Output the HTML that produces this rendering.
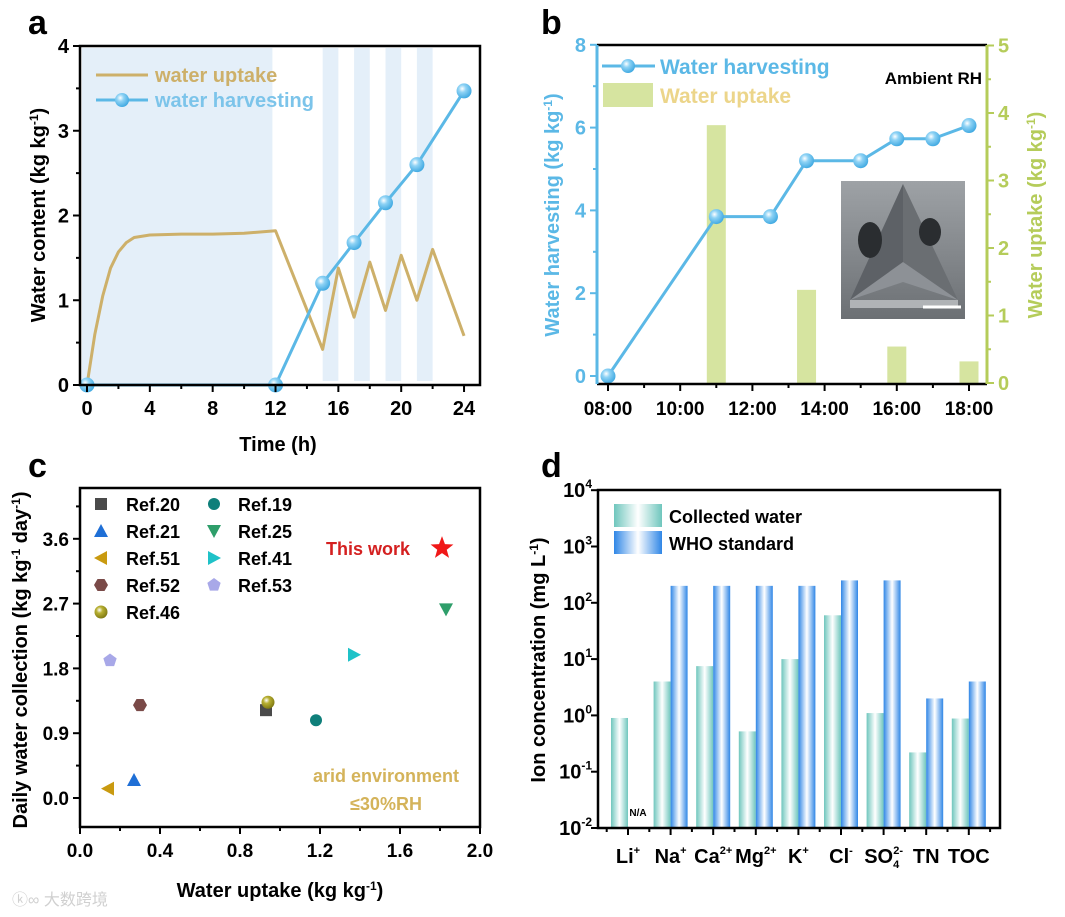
<!DOCTYPE html>
<html><head><meta charset="utf-8"><style>
html,body{margin:0;padding:0;background:#fff;}
svg{display:block;font-family:"Liberation Sans","Noto Sans CJK SC",sans-serif;font-weight:bold;}
</style></head><body>
<svg id="fig" width="1065" height="917" viewBox="0 0 1065 917" xmlns="http://www.w3.org/2000/svg">
<defs>
<radialGradient id="ball" cx="0.38" cy="0.35" r="0.7"><stop offset="0" stop-color="#ffffff"/><stop offset="0.35" stop-color="#8fd3f5"/><stop offset="1" stop-color="#3aa6e0"/></radialGradient>
<radialGradient id="olive" cx="0.38" cy="0.35" r="0.7"><stop offset="0" stop-color="#ffffff"/><stop offset="0.35" stop-color="#b8b032"/><stop offset="1" stop-color="#7b7510"/></radialGradient>
<linearGradient id="teal" x1="0" x2="1" y1="0" y2="0"><stop offset="0" stop-color="#6fc6bd"/><stop offset="0.5" stop-color="#ffffff"/><stop offset="1" stop-color="#6fc6bd"/></linearGradient>
<linearGradient id="blue" x1="0" x2="1" y1="0" y2="0"><stop offset="0" stop-color="#2f86e6"/><stop offset="0.5" stop-color="#ffffff"/><stop offset="1" stop-color="#2f86e6"/></linearGradient>
<linearGradient id="photo" x1="0" x2="0" y1="0" y2="1"><stop offset="0" stop-color="#9ea2a6"/><stop offset="1" stop-color="#6c7074"/></linearGradient>
</defs>

<text x="28" y="34" font-size="34">a</text>
<text x="541" y="34" font-size="34">b</text>
<text x="28" y="477" font-size="34">c</text>
<text x="541" y="477" font-size="34">d</text>

<g id="pa">
<g id="pa-shade"></g>
<g id="pa-marks"></g>
<rect x="80" y="46" width="400" height="339" fill="none" stroke="#000" stroke-width="2.5"/>
<g id="pa-ticks"></g>
<line x1="96" y1="75" x2="148" y2="75" stroke="#cdb06a" stroke-width="3"/>
<text x="155" y="82" font-size="20" fill="#cdb06a">water uptake</text>
<line x1="96" y1="100" x2="148" y2="100" stroke="#5bb8e6" stroke-width="3"/>
<circle cx="122" cy="100" r="7" fill="url(#ball)"/>
<text x="155" y="107" font-size="20" fill="#7cc4ea">water harvesting</text>
<text transform="translate(45,215) rotate(-90)" text-anchor="middle" font-size="20">Water content (kg kg<tspan dy="-7" font-size="12">-1</tspan><tspan dy="7">)</tspan></text>
<text x="278" y="451" text-anchor="middle" font-size="20">Time (h)</text>
</g>

<g id="pb">
<g id="pb-bars"></g>
<g id="pb-photo">
<rect x="841" y="181" width="124" height="138" fill="url(#photo)"/>
<polygon points="903,184 850,300 903,282 958,300" fill="#8d9196"/>
<polygon points="903,184 850,300 903,262" fill="#5d6166"/>
<polygon points="903,184 958,300 903,262" fill="#6a6e72"/>
<ellipse cx="870" cy="240" rx="12" ry="18" fill="#2a2d30"/>
<ellipse cx="930" cy="232" rx="11" ry="14" fill="#2a2d30"/>
<rect x="850" y="300" width="108" height="8" fill="#b0b3b6"/>
<line x1="923" y1="307" x2="961" y2="307" stroke="#fff" stroke-width="3"/>
</g>
<g id="pb-marks"></g>
<line x1="597" y1="45" x2="987" y2="45" stroke="#000" stroke-width="2.5"/>
<line x1="597" y1="384" x2="987" y2="384" stroke="#000" stroke-width="2.5"/>
<line x1="597" y1="45" x2="597" y2="384" stroke="#5bb8e6" stroke-width="3"/>
<line x1="987" y1="45" x2="987" y2="384" stroke="#b5cc5a" stroke-width="3"/>
<g id="pb-ticks"></g>
<line x1="602" y1="66" x2="655" y2="66" stroke="#5bb8e6" stroke-width="3"/>
<circle cx="628" cy="66" r="7" fill="url(#ball)"/>
<text x="660" y="74" font-size="21" fill="#5bb8e6">Water harvesting</text>
<rect x="603" y="83" width="50" height="24" fill="#d6e4a0"/>
<text x="660" y="103" font-size="21" fill="#ecd58a">Water uptake</text>
<text x="982" y="84" text-anchor="end" font-size="17">Ambient RH</text>
<text transform="translate(559,215) rotate(-90)" text-anchor="middle" font-size="20" fill="#5bb8e6">Water harvesting (kg kg<tspan dy="-7" font-size="12">-1</tspan><tspan dy="7">)</tspan></text>
<text transform="translate(1042,215) rotate(-90)" text-anchor="middle" font-size="20" fill="#b5cc5a">Water uptake (kg kg<tspan dy="-7" font-size="12">-1</tspan><tspan dy="7">)</tspan></text>
</g>

<g id="pc">
<g id="pc-marks"></g>
<rect x="80" y="488" width="400" height="339" fill="none" stroke="#000" stroke-width="2.5"/>
<g id="pc-ticks"></g>
<g id="pc-legend"></g>
<text x="326" y="555" font-size="18" fill="#d42020">This work</text>
<text x="386" y="782" text-anchor="middle" font-size="18" fill="#d4b35a">arid environment</text>
<text x="386" y="810" text-anchor="middle" font-size="18" fill="#d4b35a">≤30%RH</text>
<text transform="translate(27,660) rotate(-90)" text-anchor="middle" font-size="20">Daily water collection (kg kg<tspan dy="-7" font-size="12">-1</tspan><tspan dy="7"> day</tspan><tspan dy="-7" font-size="12">-1</tspan><tspan dy="7">)</tspan></text>
<text x="280" y="897" text-anchor="middle" font-size="20">Water uptake (kg kg<tspan dy="-7" font-size="12">-1</tspan><tspan dy="7">)</tspan></text>
<text x="12" y="905" font-size="16" fill="#d0d0d0" font-weight="normal">ⓚ∞ 大数跨境</text>
</g>

<g id="pd">
<g id="pd-bars"></g>
<rect x="598" y="490" width="402" height="338" fill="none" stroke="#000" stroke-width="2.5"/>
<g id="pd-ticks"></g>
<rect x="614" y="504" width="48" height="23" fill="url(#teal)"/>
<text x="669" y="523" font-size="18">Collected water</text>
<rect x="614" y="531" width="48" height="23" fill="url(#blue)"/>
<text x="669" y="550" font-size="18">WHO standard</text>
<text x="638" y="816" text-anchor="middle" font-size="10">N/A</text>
<text transform="translate(545,660) rotate(-90)" text-anchor="middle" font-size="20">Ion concentration (mg L<tspan dy="-7" font-size="12">-1</tspan><tspan dy="7">)</tspan></text>
</g>
</svg>
<script>
// ---- Panel a data ----
const aUptakeT = [0,0.5,1,1.5,2,2.5,3,4,6,8,10,12,15,16,17,18,19,20,21,22,24];
const aUptakeV = [0,0.6,1.05,1.38,1.57,1.68,1.74,1.77,1.78,1.78,1.79,1.82,0.42,1.38,0.8,1.45,0.88,1.53,1.0,1.6,0.58];
const aHarvestT = [0,12,15,17,19,21,24];
const aHarvestV = [0,0,1.2,1.68,2.15,2.6,3.47];
const aShadeStart = [-0.5,15,17,19,21];
const aShadeEnd = [11.8,16,18,20,22];
const aXTicks = [0,4,8,12,16,20,24];
const aYTicks = [0,1,2,3,4];
// ---- Panel b data ----
const bHarvestT = [8,11,12.5,13.5,15,16,17,18];
const bHarvestV = [0,3.85,3.85,5.2,5.2,5.73,5.73,6.05];
const bBarT = [11,13.5,16,18];
const bBarV = [3.82,1.38,0.54,0.32];
const bXTicks = ["08:00","10:00","12:00","14:00","16:00","18:00"];
const bXTickHours = [8,10,12,14,16,18];
const bYLeftTicks = [0,2,4,6,8];
const bYRightTicks = [0,1,2,3,4,5];
// ---- Panel c data ----
const cNames = ["Ref.20","Ref.21","Ref.51","Ref.52","Ref.46","Ref.19","Ref.25","Ref.41","Ref.53"];
const cUptake = [0.93,0.27,0.14,0.30,0.94,1.18,1.83,1.37,0.15];
const cCollect = [1.22,0.25,0.13,1.29,1.33,1.08,2.62,1.99,1.91];
const cShapes = ["square","up","left","hex","ball","circle","down","right","pent"];
const cColors = ["#4a4a4a","#1f6fd6","#c99a10","#7a4a48","#9b9520","#0f7f7a","#2e9e6a","#1fc2c8","#a8a8e8"];
const cThisWork = [1.81,3.47];
const cXTicks = ["0.0","0.4","0.8","1.2","1.6","2.0"];
const cYTicks = ["0.0","0.9","1.8","2.7","3.6"];
// ---- Panel d data ----
const dCats = ["Li","Na","Ca","Mg","K","Cl","SO","TN","TOC"];
const dSup = ["+","+","2+","2+","+","-","2-","",""];
const dSub = ["","","","","","","4","",""];
const dCollected = [0.9,4,7.5,0.52,10,60,1.1,0.22,0.88];
const dWHO = [null,200,200,200,200,250,250,2,4];
const dYExp = [-2,-1,0,1,2,3,4];

const NS = "http://www.w3.org/2000/svg";
function mk(parent, tag, attrs, name){
  const el = document.createElementNS(NS, tag);
  for (const k in attrs) el.setAttribute(k, attrs[k]);
  
  
  document.getElementById(parent).appendChild(el);
  return el;
}
// ---- Panel a ----
const xa = t => 87 + t*15.71;
const ya = v => 385 - v*84.75;
aShadeStart.forEach((s,i)=>{
  const x0 = Math.max(82, xa(s)), x1 = xa(aShadeEnd[i]);
  mk('pa-shade','rect',{x:x0,y:48,width:x1-x0,height:i===0?336:333,fill:'#e4eff9'},'shade-band');
});
mk('pa-marks','polyline',{points:aUptakeT.map((t,i)=>xa(t)+','+ya(aUptakeV[i])).join(' '),fill:'none',stroke:'#cdb06a','stroke-width':3,'stroke-linejoin':'round'},'water-uptake-line');
mk('pa-marks','polyline',{points:aHarvestT.map((t,i)=>xa(t)+','+ya(aHarvestV[i])).join(' '),fill:'none',stroke:'#5bb8e6','stroke-width':3},'water-harvesting-line');
aHarvestT.forEach((t,i)=>mk('pa-marks','circle',{cx:xa(t),cy:ya(aHarvestV[i]),r:7.5,fill:'url(#ball)'},'harvest-point'));
aXTicks.forEach(t=>{
  mk('pa-ticks','line',{x1:xa(t),y1:385,x2:xa(t),y2:392,stroke:'#000','stroke-width':2},'x-tick');
  const tx = mk('pa-ticks','text',{x:xa(t),y:415,'text-anchor':'middle','font-size':20},'x-tick-label'); tx.textContent=t;
  if(t<24) mk('pa-ticks','line',{x1:xa(t+2),y1:385,x2:xa(t+2),y2:389,stroke:'#000','stroke-width':2},'x-minor-tick');
});
aYTicks.forEach(v=>{
  mk('pa-ticks','line',{x1:73,y1:ya(v),x2:80,y2:ya(v),stroke:'#000','stroke-width':2},'y-tick');
  const tx = mk('pa-ticks','text',{x:69,y:ya(v)+7,'text-anchor':'end','font-size':20},'y-tick-label'); tx.textContent=v;
  if(v<4) mk('pa-ticks','line',{x1:76,y1:ya(v+0.5),x2:80,y2:ya(v+0.5),stroke:'#000','stroke-width':2},'y-minor-tick');
});
// ---- Panel b ----
const xb = h => 608 + (h-8)*36.1;
const ybl = v => 376 - v*41.4;
const ybr = v => 383 - v*67.5;
bBarT.forEach((t,i)=>mk('pb-bars','rect',{x:xb(t)-9.5,y:ybr(bBarV[i]),width:19,height:383-ybr(bBarV[i]),fill:'#d6e4a0'},'uptake-bar'));
mk('pb-marks','polyline',{points:bHarvestT.map((t,i)=>xb(t)+','+ybl(bHarvestV[i])).join(' '),fill:'none',stroke:'#5bb8e6','stroke-width':3},'b-harvest-line');
bHarvestT.forEach((t,i)=>mk('pb-marks','circle',{cx:xb(t),cy:ybl(bHarvestV[i]),r:7.5,fill:'url(#ball)'},'b-harvest-point'));
bXTickHours.forEach((h,i)=>{
  mk('pb-ticks','line',{x1:xb(h),y1:384,x2:xb(h),y2:391,stroke:'#000','stroke-width':2},'b-x-tick');
  const tx = mk('pb-ticks','text',{x:xb(h),y:415,'text-anchor':'middle','font-size':19},'b-x-tick-label'); tx.textContent=bXTicks[i];
  if(h<18) mk('pb-ticks','line',{x1:xb(h+1),y1:384,x2:xb(h+1),y2:388,stroke:'#000','stroke-width':2},'b-x-minor-tick');
});
bYLeftTicks.forEach(v=>{
  mk('pb-ticks','line',{x1:590,y1:ybl(v),x2:597,y2:ybl(v),stroke:'#5bb8e6','stroke-width':2},'b-left-tick');
  const tx = mk('pb-ticks','text',{x:586,y:ybl(v)+7,'text-anchor':'end','font-size':20,fill:'#5bb8e6'},'b-left-tick-label'); tx.textContent=v;
  if(v<8) mk('pb-ticks','line',{x1:593,y1:ybl(v+1),x2:597,y2:ybl(v+1),stroke:'#5bb8e6','stroke-width':2},'b-left-minor');
});
bYRightTicks.forEach(v=>{
  mk('pb-ticks','line',{x1:987,y1:ybr(v),x2:994,y2:ybr(v),stroke:'#b5cc5a','stroke-width':2},'b-right-tick');
  const tx = mk('pb-ticks','text',{x:998,y:ybr(v)+7,'font-size':20,fill:'#b5cc5a'},'b-right-tick-label'); tx.textContent=v;
  if(v<5) mk('pb-ticks','line',{x1:987,y1:ybr(v+0.5),x2:991,y2:ybr(v+0.5),stroke:'#b5cc5a','stroke-width':2},'b-right-minor');
});
// ---- Panel c ----
const xc = v => 80 + v*200;
const yc = v => 798 - v*72;
function shape(parent, type, x, y, color, name){
  const s = 7;
  const poly = pts => mk(parent,'polygon',{points:pts.map(p=>(x+p[0])+','+(y+p[1])).join(' '),fill:color},name);
  if(type==='square') return mk(parent,'rect',{x:x-s+1,y:y-s+1,width:2*s-2,height:2*s-2,fill:color},name);
  if(type==='circle') return mk(parent,'circle',{cx:x,cy:y,r:s-1,fill:color},name);
  if(type==='ball') return mk(parent,'circle',{cx:x,cy:y,r:s-0.5,fill:'url(#olive)'},name);
  if(type==='up') return poly([[0,-s],[s,s-1],[-s,s-1]]);
  if(type==='down') return poly([[0,s],[s,-s+1],[-s,-s+1]]);
  if(type==='left') return poly([[-s,0],[s-1,-s],[s-1,s]]);
  if(type==='right') return poly([[s,0],[-s+1,-s],[-s+1,s]]);
  const n = type==='hex'?6:5, pts=[];
  for(let k=0;k<n;k++){const a=(type==='hex'?0:-Math.PI/2)+k*2*Math.PI/n;pts.push([s*Math.cos(a),s*Math.sin(a)]);}
  return poly(pts);
}
cNames.forEach((n,i)=>shape('pc-marks',cShapes[i],xc(cUptake[i]),yc(cCollect[i]),cColors[i],'point-'+n.toLowerCase().replace('.','-')));
(function(){
  const x=xc(cThisWork[0]), y=yc(cThisWork[1]), R=12, r=5, pts=[];
  for(let k=0;k<10;k++){const a=-Math.PI/2+k*Math.PI/5, rr=k%2?r:R; pts.push((x+rr*Math.cos(a))+','+(y+rr*Math.sin(a)));}
  mk('pc-marks','polygon',{points:pts.join(' '),fill:'#f01818'},'this-work-star');
})();
cNames.forEach((n,i)=>{
  const col = i<5?0:1, row = i<5?i:i-5;
  const lx = col?214:101, ly = 504+row*27;
  shape('pc-legend',cShapes[i],lx,ly,cColors[i],'legend-marker');
  const t = mk('pc-legend','text',{x:col?238:126,y:ly+7,'font-size':18},'legend-label'); t.textContent=n;
});
cXTicks.forEach((l,i)=>{
  const v = i*0.4;
  mk('pc-ticks','line',{x1:xc(v),y1:827,x2:xc(v),y2:834,stroke:'#000','stroke-width':2},'c-x-tick');
  const t = mk('pc-ticks','text',{x:xc(v),y:857,'text-anchor':'middle','font-size':19},'c-x-tick-label'); t.textContent=l;
  if(i<5) mk('pc-ticks','line',{x1:xc(v+0.2),y1:827,x2:xc(v+0.2),y2:831,stroke:'#000','stroke-width':2},'c-x-minor');
});
cYTicks.forEach((l,i)=>{
  const v = i*0.9;
  mk('pc-ticks','line',{x1:73,y1:yc(v),x2:80,y2:yc(v),stroke:'#000','stroke-width':2},'c-y-tick');
  const t = mk('pc-ticks','text',{x:69,y:yc(v)+7,'text-anchor':'end','font-size':19},'c-y-tick-label'); t.textContent=l;
  mk('pc-ticks','line',{x1:76,y1:yc(v+0.45),x2:80,y2:yc(v+0.45),stroke:'#000','stroke-width':2},'c-y-minor');
});
// ---- Panel d ----
const xd = i => 628 + i*42.6;
const yd = v => 828 - (Math.log10(v)+2)*56.3;
dCats.forEach((c,i)=>{
  const cv = dCollected[i];
  mk('pd-bars','rect',{x:xd(i)-17,y:yd(cv),width:17,height:828-yd(cv),fill:'url(#teal)'},'collected-bar-'+c.toLowerCase());
  if(dWHO[i]!==null){const w=dWHO[i]; mk('pd-bars','rect',{x:xd(i),y:yd(w),width:17,height:828-yd(w),fill:'url(#blue)'},'who-bar-'+c.toLowerCase());}
  mk('pd-ticks','line',{x1:xd(i),y1:828,x2:xd(i),y2:835,stroke:'#000','stroke-width':2},'d-x-tick');
  mk('pd-ticks','line',{x1:xd(i)+21.3,y1:828,x2:xd(i)+21.3,y2:832,stroke:'#000','stroke-width':2},'d-x-minor');
  const t = mk('pd-ticks','text',{x:xd(i),y:863,'text-anchor':'middle','font-size':20},'d-x-tick-label');
  t.appendChild(document.createTextNode(c));
  if(dSub[i]){const sb=document.createElementNS(NS,'tspan');sb.setAttribute('dy','5');sb.setAttribute('font-size','11');sb.textContent=dSub[i];t.appendChild(sb);}
  if(dSup[i]){const sp=document.createElementNS(NS,'tspan');sp.setAttribute('dy',dSub[i]?'-14':'-9');sp.setAttribute('font-size','11');if(dSub[i])sp.setAttribute('dx','-6');sp.textContent=dSup[i];t.appendChild(sp);}
});
mk('pd-ticks','line',{x1:xd(0)-21.3,y1:828,x2:xd(0)-21.3,y2:832,stroke:'#000','stroke-width':2},'d-x-minor');
dYExp.forEach(e=>{
  const y = yd(Math.pow(10,e));
  mk('pd-ticks','line',{x1:591,y1:y,x2:598,y2:y,stroke:'#000','stroke-width':2},'d-y-tick');
  const t = mk('pd-ticks','text',{x:592,y:y+7,'text-anchor':'end','font-size':20},'d-y-tick-label');
  t.appendChild(document.createTextNode('10'));
  const sp=document.createElementNS(NS,'tspan');sp.setAttribute('dy','-9');sp.setAttribute('font-size','12');sp.textContent=e;t.appendChild(sp);
});
</script>
</body></html>
